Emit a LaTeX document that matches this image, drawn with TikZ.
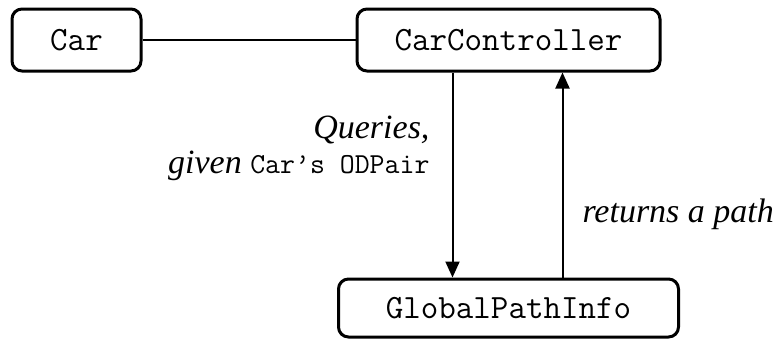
\documentclass[tikz,border=0pt]{standalone}
\usepackage{fontspec}
\setmainfont{Liberation Serif}
\usetikzlibrary{arrows.meta,positioning}
\newcommand{\class}[1]{\textup{\texttt{#1}}}
\tikzset{
  objbox/.style={
    draw,
    line width=1.5pt,
    rounded corners=5pt,
    minimum height=31pt,
    inner sep=0pt,
    font=\fontsize{17}{20}\selectfont\ttfamily
  },
  link/.style={line width=1pt},
  msg/.style={-{Triangle[length=8pt,width=7pt]},line width=1pt},
  note/.style={
    font=\fontsize{17}{17.5}\selectfont\itshape,
    inner sep=0pt
  }
}

\begin{document}
\begin{tikzpicture}[x=0.5pt,y=-0.5pt,node distance=106.5pt]
  \useasboundingbox (0,0) rectangle (777,343);
  \node[objbox,minimum width=64.5pt] (car) at (76.5,40) {Car};
  \node[objbox,minimum width=151.5pt,right=of car] (ctrl) {CarController};
  \node[objbox,minimum width=170pt,minimum height=29pt,below=102.5pt of ctrl] (gpi) {GlobalPathInfo};
  \draw[link] (car) -- (ctrl);
  \draw[msg] ([xshift=-28pt]ctrl.south) -- node[note,left=11pt,pos=0.37,align=right]
    {Queries,\\given {\fontsize{14.5}{17.5}\selectfont\class{Car’s ODPair}}} ([xshift=-28pt]gpi.north);
  \draw[msg] ([xshift=27pt]gpi.north) -- node[note,right=9.5pt,pos=0.31] {returns a path} ([xshift=27pt]ctrl.south);
\end{tikzpicture}
\end{document}
